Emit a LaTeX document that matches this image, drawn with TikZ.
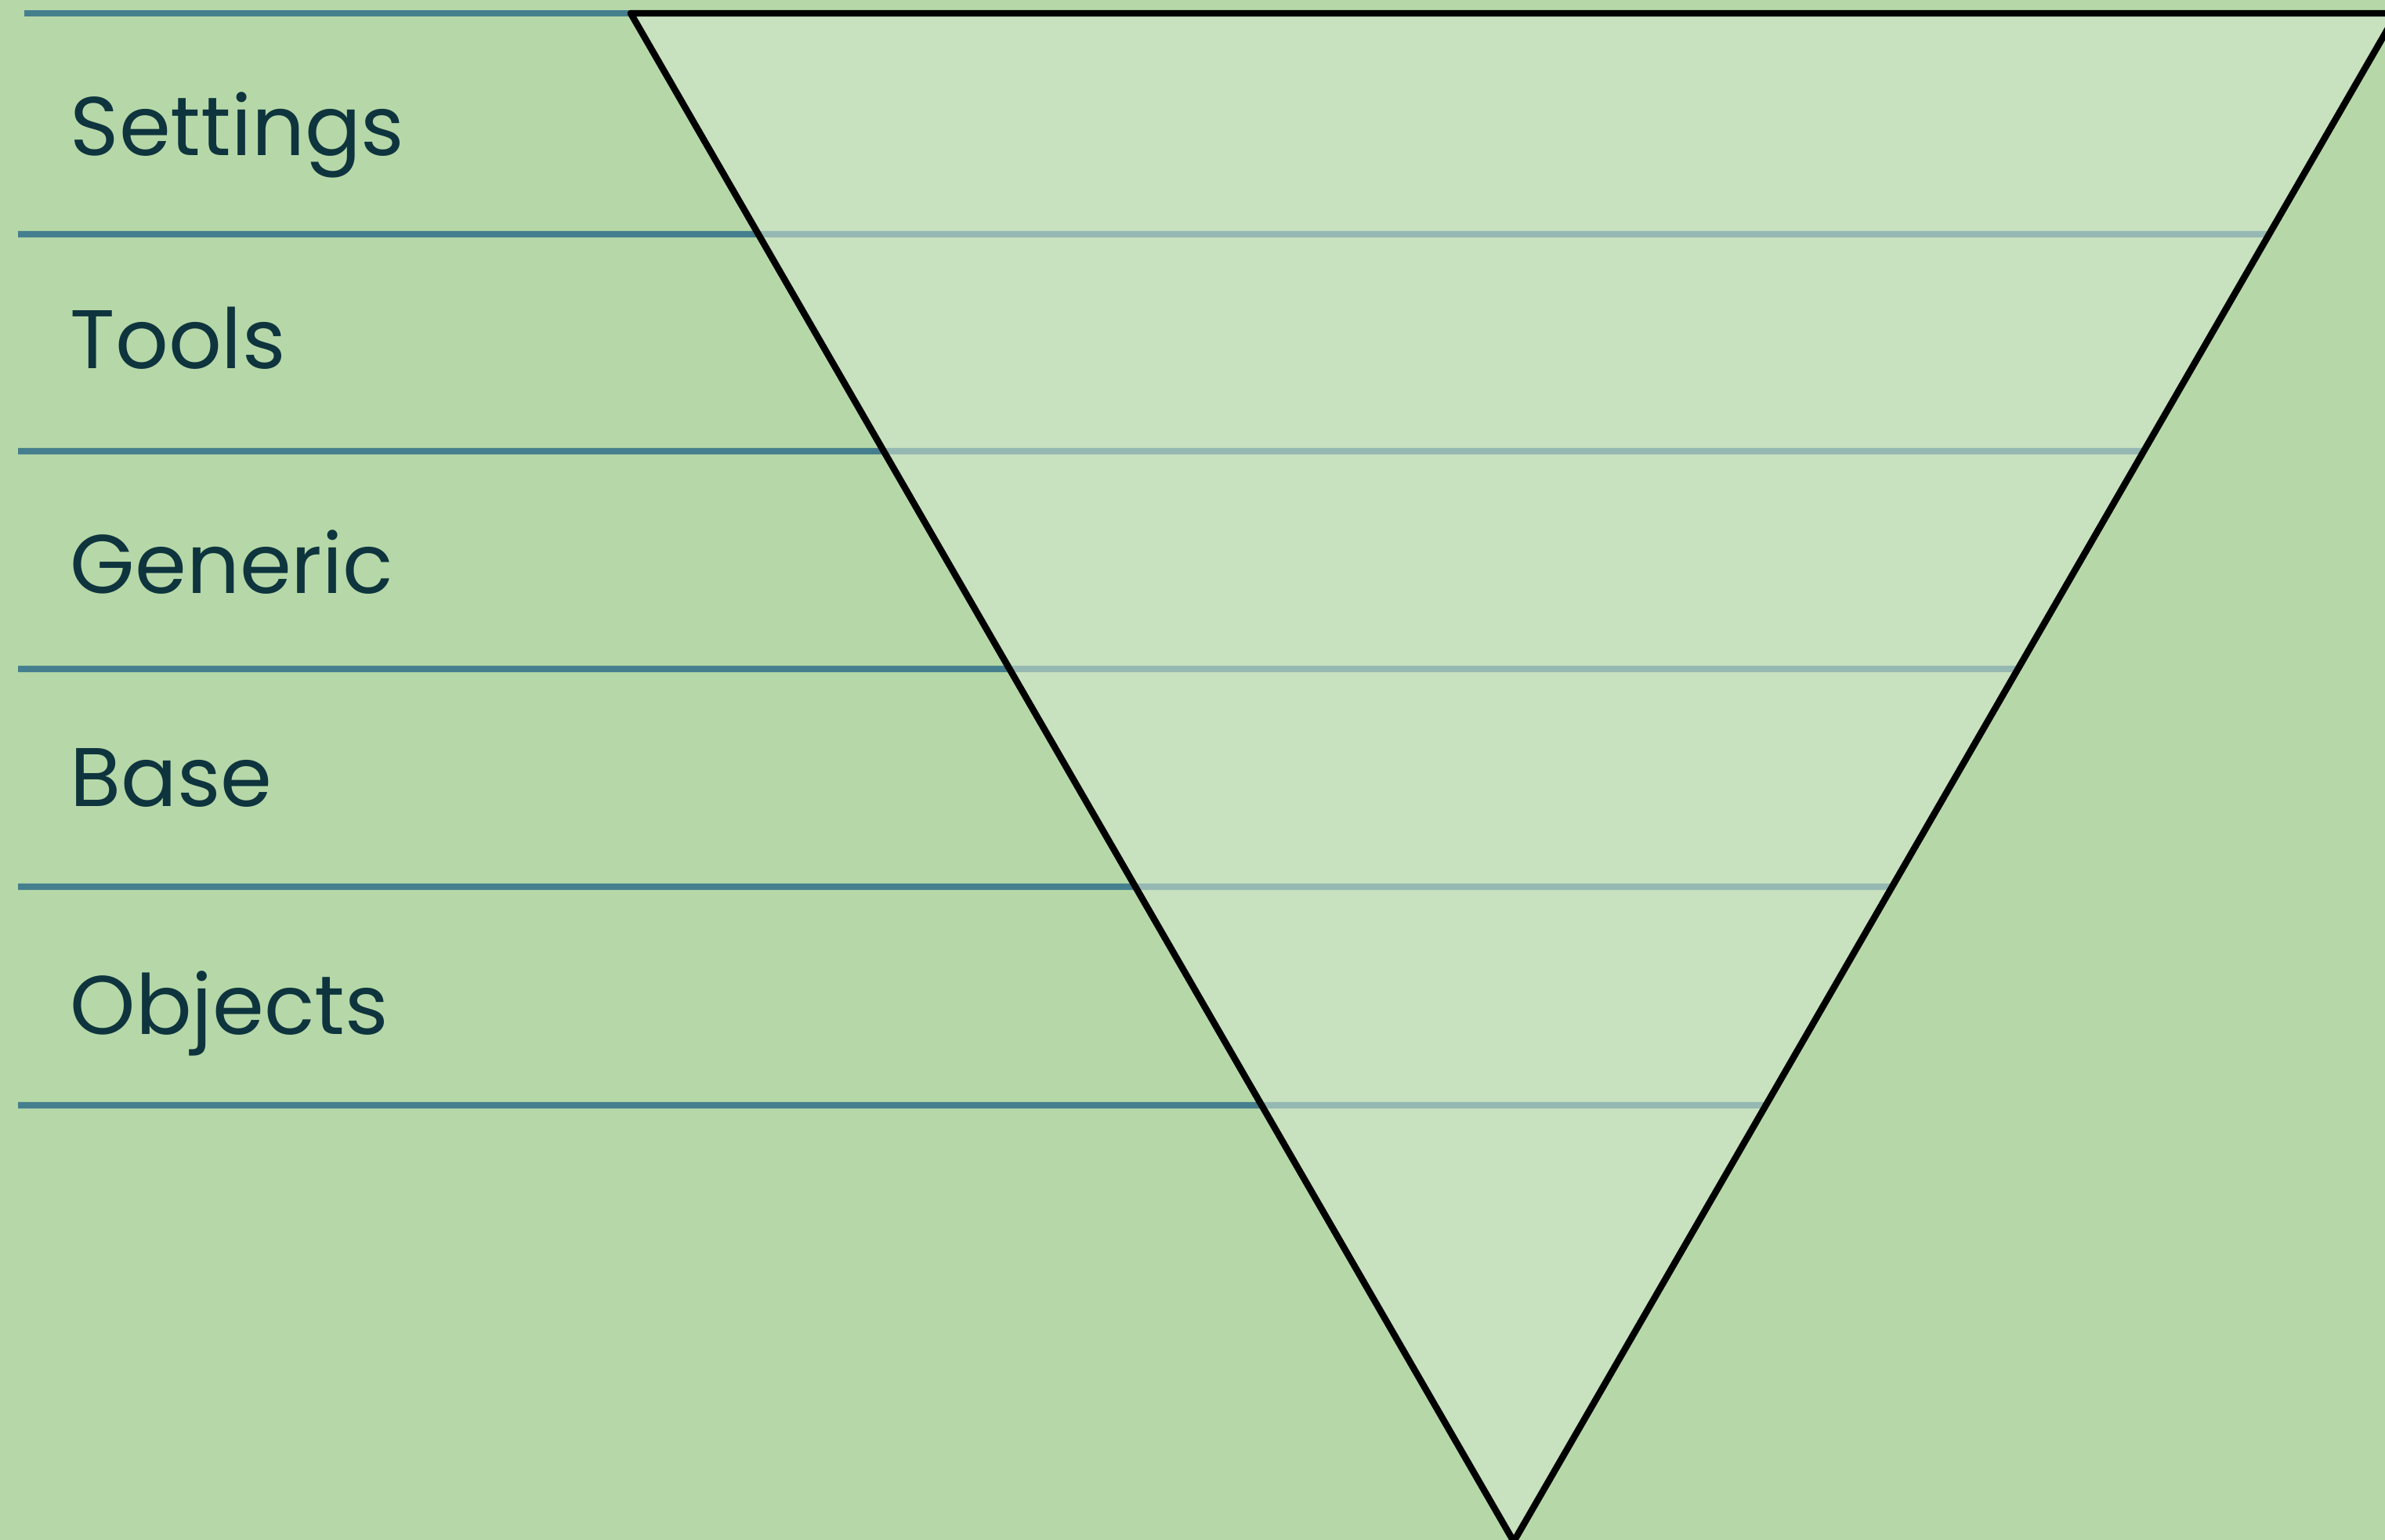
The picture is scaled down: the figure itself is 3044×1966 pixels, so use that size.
\documentclass[tikz,border=0pt]{standalone}
\usepackage{fontspec}
\setmainfont{Poppins}
\usetikzlibrary{calc}

\definecolor{bggreen}{RGB}{182,216,168}
\definecolor{funnelfill}{RGB}{217,233,212}
\definecolor{rulecol}{RGB}{69,127,142}
\definecolor{labelcol}{RGB}{14,52,62}

\begin{document}
\begin{tikzpicture}[
  x=0.1mm, y=-0.1mm,
  rule/.style={draw=rulecol, line width=2.3pt},
  funnel/.style={draw=black, line width=2.4pt, line join=round,
    fill=funnelfill, fill opacity=0.54},
  layer/.style={anchor=base west, inner sep=0pt, text=labelcol,
    font=\fontsize{30.2}{36}\selectfont}
]

% page
\fill[bggreen] (0,0) rectangle (3044,1966);
\useasboundingbox (0,0) rectangle (3044,1966);

% triangle corners
\coordinate (tl) at (805,17);
\coordinate (tr) at (3059,17);
\coordinate (tip) at (1932,1968);

% --- layer rules, ending at the right edge ---
\draw[rule] (31,17) -- (tr);
\foreach \yy in {299,576,854,1132,1411}{
  \pgfmathsetmacro{\tt}{(\yy-17)/1951}
  \draw[rule] (23,\yy) -- ($(tr)!\tt!(tip)$);
}

% funnel
\draw[funnel] (tl) -- (tr) -- (tip) -- cycle;

% --- labels ---
\foreach \lbl/\yb [count=\i] in {Settings/198,Tools/470,Generic/757,Base/1029,Objects/1320}{
  \node[layer] (lbl\i) at (89,\yb) {\lbl};
}

\end{tikzpicture}
\end{document}
